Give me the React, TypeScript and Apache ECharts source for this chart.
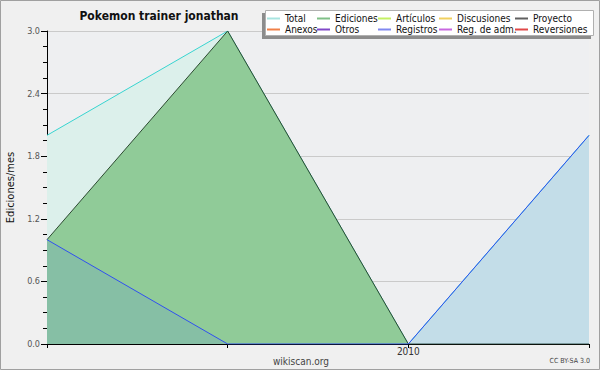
import React, { useEffect, useRef } from "react";
import * as echarts from "echarts";

const months = ["2009-11", "2009-12", "2010-01", "2010-02"];
const totalValues = [2, 3, 0, 2];
const edicionesValues = [1, 3, 0, 0];
const registrosValues = [1, 0, 0, 2];
const yTicks = [0, 0.6, 1.2, 1.8, 2.4, 3.0];

const legendColumns = [
  { left: 267, names: ["Total", "Anexos"] },
  { left: 317, names: ["Ediciones", "Otros"] },
  { left: 378, names: ["Artículos", "Registros"] },
  { left: 439, names: ["Discusiones", "Reg. de adm."] },
  { left: 515, names: ["Proyecto", "Reversiones"] },
];
const legendColors: Record<string, string> = {
  Total: "#a8e4e0",
  Ediciones: "#80c088",
  "Artículos": "#c4f064",
  Discusiones: "#f0d060",
  Proyecto: "#606060",
  Anexos: "#f08048",
  Otros: "#8048c8",
  Registros: "#8088f0",
  "Reg. de adm.": "#c868e0",
  Reversiones: "#e04848",
};

const FONT = "'DejaVu Sans Condensed', 'DejaVu Sans', sans-serif";

export default function App() {
  const ref = useRef<HTMLDivElement>(null);
  useEffect(() => {
    if (!ref.current) return;
    const chart = echarts.init(ref.current, null, { renderer: "svg" });
    const dataSeries: Record<string, number[]> = {
      Total: totalValues,
      Ediciones: edicionesValues,
      Registros: registrosValues,
    };
    const styles: Record<string, any> = {
      Total: { line: "#38d4d0", area: "#dcf0eb", z: 1 },
      Ediciones: { line: "#2c4a30", area: "#90cb98", z: 2 },
      Registros: { line: "#3050f0", area: "rgba(96,145,219,0.2)", z: 3 },
    };
    const order = ["Total", "Ediciones", "Artículos", "Discusiones", "Proyecto", "Anexos", "Otros", "Registros", "Reg. de adm.", "Reversiones"];
    const series = order.map((name) => {
      const st = styles[name];
      return {
        name,
        type: "line",
        data: dataSeries[name] || [],
        symbol: "none",
        z: st ? st.z : 1,
        color: legendColors[name],
        lineStyle: { color: st ? st.line : legendColors[name], width: 1 },
        areaStyle: st ? { color: st.area, opacity: 1 } : undefined,
        emphasis: { disabled: true },
      };
    });
    chart.setOption({
      animation: false,
      backgroundColor: "#f0f0f0",
      grid: {
        left: 47,
        right: 11,
        top: 31,
        bottom: 26,
        containLabel: false,
        outerBoundsMode: "none",
        show: true,
        backgroundColor: "#eeeff1",
        borderWidth: 0,
      },
      legend: legendColumns.map((col) => ({
        orient: "vertical",
        left: col.left,
        top: 13,
        padding: 0,
        itemGap: 0,
        itemWidth: 13,
        itemHeight: 2,
        icon: "rect",
        selectedMode: false,
        z: 10,
        data: col.names.map((n) => ({ name: n, itemStyle: { color: legendColors[n] } })),
        textStyle: { fontFamily: FONT, fontSize: 10, color: "#111", lineHeight: 11, padding: 0 },
      })),
      xAxis: {
        type: "category",
        data: months,
        boundaryGap: false,
        axisLine: { lineStyle: { color: "#000", width: 1 } },
        axisTick: { show: true, length: 4, lineStyle: { color: "#000" } },
        axisLabel: {
          fontFamily: FONT,
          fontSize: 10,
          color: "#333",
          margin: 2,
          formatter: (v: string) => (v.endsWith("-01") ? v.slice(0, 4) : ""),
        },
        splitLine: { show: false },
      },
      yAxis: {
        type: "value",
        min: 0,
        max: 3,
        interval: 0.6,
        name: "Ediciones/mes",
        nameLocation: "middle",
        nameGap: 31,
        nameTextStyle: { fontFamily: FONT, fontSize: 11, color: "#111" },
        axisLine: { show: true, lineStyle: { color: "#000", width: 1 } },
        axisTick: { show: true, length: 6, lineStyle: { color: "#000" } },
        minorTick: { show: true, splitNumber: 4, length: 4, lineStyle: { color: "#000" } },
        axisLabel: {
          fontFamily: FONT,
          fontSize: 9,
          color: "#555",
          margin: 7,
          formatter: (v: number) => (yTicks.includes(Number(v.toFixed(1))) ? v.toFixed(1) : ""),
        },
        splitLine: { show: true, lineStyle: { color: "#cacaca", width: 1 } },
      },
      graphic: [
        {
          type: "rect",
          z: -1,
          silent: true,
          shape: { x: 0.5, y: 0.5, width: 599, height: 369 },
          style: { fill: "none", stroke: "#a0a0a0", lineWidth: 1 },
        },
        {
          type: "rect",
          z: 8,
          silent: true,
          shape: { x: 262, y: 13, width: 329, height: 26 },
          style: { fill: "#8c8c8c" },
        },
        {
          type: "rect",
          z: 9,
          silent: true,
          shape: { x: 265.5, y: 10.5, width: 328, height: 25 },
          style: { fill: "#ffffff", stroke: "#b0b0b0", lineWidth: 1 },
        },
        {
          type: "text",
          z: 9,
          x: 159,
          y: 16,
          style: {
            text: "Pokemon trainer jonathan",
            fontFamily: FONT,
            fontWeight: "bold",
            fontSize: 12,
            fill: "#111",
            align: "center",
            verticalAlign: "middle",
          },
        },
        {
          type: "text",
          x: 301,
          y: 361,
          style: {
            text: "wikiscan.org",
            fontFamily: FONT,
            fontSize: 10,
            fill: "#444",
            align: "center",
            verticalAlign: "middle",
          },
        },
        {
          type: "text",
          x: 590,
          y: 361,
          style: {
            text: "CC BY-SA 3.0",
            fontFamily: FONT,
            fontSize: 7,
            fill: "#444",
            align: "right",
            verticalAlign: "middle",
          },
        },
      ],
      series,
    });
    return () => chart.dispose();
  }, []);
  return (
    <div
      ref={ref}
      style={{ position: "absolute", left: 0, top: 0, width: 600, height: 370 }}
    />
  );
}
